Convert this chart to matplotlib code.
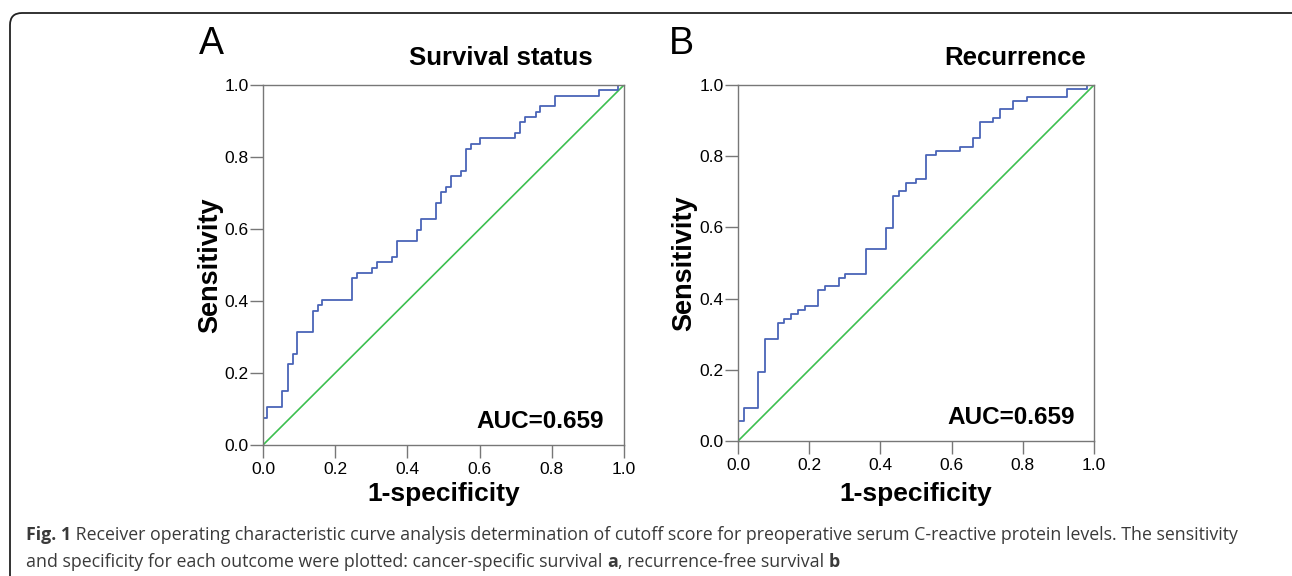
import numpy as np
import matplotlib
matplotlib.use("Agg")
import matplotlib.pyplot as plt
from matplotlib.patches import FancyBboxPatch
from matplotlib.transforms import IdentityTransform

# ===== данные =====
# A: Survival status  -- точки после каждого шага вверх
fpr_a = [0.0, 0.0, 0.012, 0.054, 0.068, 0.082, 0.095, 0.138, 0.151, 0.164,
         0.247, 0.260, 0.302, 0.316, 0.356, 0.370, 0.426, 0.438, 0.480, 0.492,
         0.506, 0.521, 0.549, 0.561, 0.577, 0.600, 0.698, 0.713, 0.726, 0.755,
         0.768, 0.809, 0.931, 0.984, 1.0]
tpr_a = [0.0, 0.074, 0.105, 0.150, 0.224, 0.254, 0.313, 0.373, 0.389, 0.403,
         0.463, 0.477, 0.493, 0.508, 0.523, 0.568, 0.597, 0.628, 0.673, 0.702,
         0.717, 0.747, 0.762, 0.821, 0.836, 0.852, 0.866, 0.896, 0.911, 0.926,
         0.941, 0.970, 0.986, 1.0, 1.0]

# B: Recurrence
fpr_b = [0.0, 0.0, 0.017, 0.055, 0.075, 0.113, 0.130, 0.150, 0.169, 0.188,
         0.226, 0.245, 0.284, 0.301, 0.359, 0.415, 0.434, 0.452, 0.471, 0.500,
         0.527, 0.556, 0.623, 0.660, 0.679, 0.716, 0.736, 0.773, 0.811, 0.925,
         0.981, 1.0]
tpr_b = [0.0, 0.056, 0.092, 0.195, 0.287, 0.332, 0.344, 0.356, 0.367, 0.379,
         0.424, 0.436, 0.459, 0.470, 0.540, 0.597, 0.689, 0.701, 0.724, 0.735,
         0.803, 0.816, 0.827, 0.851, 0.895, 0.907, 0.933, 0.955, 0.965, 0.989,
         1.0, 1.0]

titles = ["Survival status", "Recurrence"]
letters = ["A", "B"]
auc_labels = ["AUC=0.659", "AUC=0.659"]
ticks = [0.0, 0.2, 0.4, 0.6, 0.8, 1.0]

caption_bold = "Fig. 1"
caption_1 = (" Receiver operating characteristic curve analysis determination of cutoff score "
             "for preoperative serum C-reactive protein levels. The sensitivity")
caption_2 = "and specificity for each outcome were plotted: cancer-specific survival "

blue = "#4a64b8"
green = "#3cbf4f"
spine = "#777777"
W, H = 1292, 576

plt.rcParams['font.family'] = ['Liberation Sans', 'DejaVu Sans']
fig = plt.figure(figsize=(W / 100, H / 100), dpi=100)

# рамка со скруглёнными углами
box = FancyBboxPatch((10, -40), 1320, 603, boxstyle="round,pad=0,rounding_size=12",
                     transform=IdentityTransform(), fill=False, ec="#222222", lw=1.3)
fig.patches.append(box)

rects = [(263, 85, 624, 445), (738, 85, 1094, 441)]
data = [(fpr_a, tpr_a), (fpr_b, tpr_b)]
ylab_x = [210, 684]

for i, (l, t, r, b) in enumerate(rects):
    ax = fig.add_axes([l / W, 1 - b / H, (r - l) / W, (b - t) / H])
    fx, ty = data[i]
    ax.plot([0, 1], [0, 1], color=green, lw=1.2)
    ax.plot(fx, ty, drawstyle="steps-post", color=blue, lw=1.3)
    ax.set_xlim(0, 1)
    ax.set_ylim(0, 1)
    ax.set_xticks(ticks)
    ax.set_yticks(ticks)
    ax.set_xticklabels([f"{v:.1f}" for v in ticks], fontsize=12.5)
    ax.set_yticklabels([f"{v:.1f}" for v in ticks], fontsize=12.5)
    ax.tick_params(length=9.5, width=1, color=spine)
    ax.tick_params(axis="x", pad=3)
    ax.tick_params(axis="y", pad=1)
    for s in ax.spines.values():
        s.set_color(spine)
        s.set_linewidth(1)
    ax.set_xlabel("1-specificity", fontweight="bold", fontsize=19, va="center")
    ax.xaxis.set_label_coords(0.5, -(494 - b) / (b - t))
    ax.set_ylabel("Sensitivity", fontweight="bold", fontsize=19.5, va="center")
    ax.yaxis.set_label_coords((ylab_x[i] - l) / (r - l), 0.5)
    ax.text(0.945, 0.065, auc_labels[i], transform=ax.transAxes, ha="right",
            va="center", fontsize=17.5, fontweight="bold")

fig.text(501 / W, 1 - 58 / H, titles[0], ha="center", va="center",
         fontsize=18.5, fontweight="bold")
fig.text(1015 / W, 1 - 58 / H, titles[1], ha="center", va="center",
         fontsize=18.5, fontweight="bold")
fig.text(211 / W, 1 - 44 / H, letters[0], ha="center", va="center", fontsize=27)
fig.text(681 / W, 1 - 44 / H, letters[1], ha="center", va="center", fontsize=27)

# подпись
cap_color = "#3a3a3a"
cap_font = ['Open Sans', 'DejaVu Sans']
cap_size = 12.8
renderer = fig.canvas.get_renderer()
x0 = 26 / W
t1 = fig.text(x0, 1 - 535 / H, caption_bold, fontsize=cap_size, fontweight="bold",
              family=cap_font, color=cap_color, va="center")
w1 = t1.get_window_extent(renderer).width / W
fig.text(x0 + w1, 1 - 535 / H, caption_1, fontsize=cap_size, family=cap_font,
         color=cap_color, va="center")
t2 = fig.text(x0, 1 - 562 / H, caption_2, fontsize=cap_size, family=cap_font,
              color=cap_color, va="center")
w2 = t2.get_window_extent(renderer).width / W
t3 = fig.text(x0 + w2, 1 - 562 / H, "a", fontsize=cap_size, fontweight="bold",
              family=cap_font, color=cap_color, va="center")
w3 = t3.get_window_extent(renderer).width / W
t4 = fig.text(x0 + w2 + w3, 1 - 562 / H, ", recurrence-free survival ", fontsize=cap_size,
              family=cap_font, color=cap_color, va="center")
w4 = t4.get_window_extent(renderer).width / W
fig.text(x0 + w2 + w3 + w4, 1 - 562 / H, "b", fontsize=cap_size, fontweight="bold",
         family=cap_font, color=cap_color, va="center")

fig.savefig("out.png", dpi=100)
